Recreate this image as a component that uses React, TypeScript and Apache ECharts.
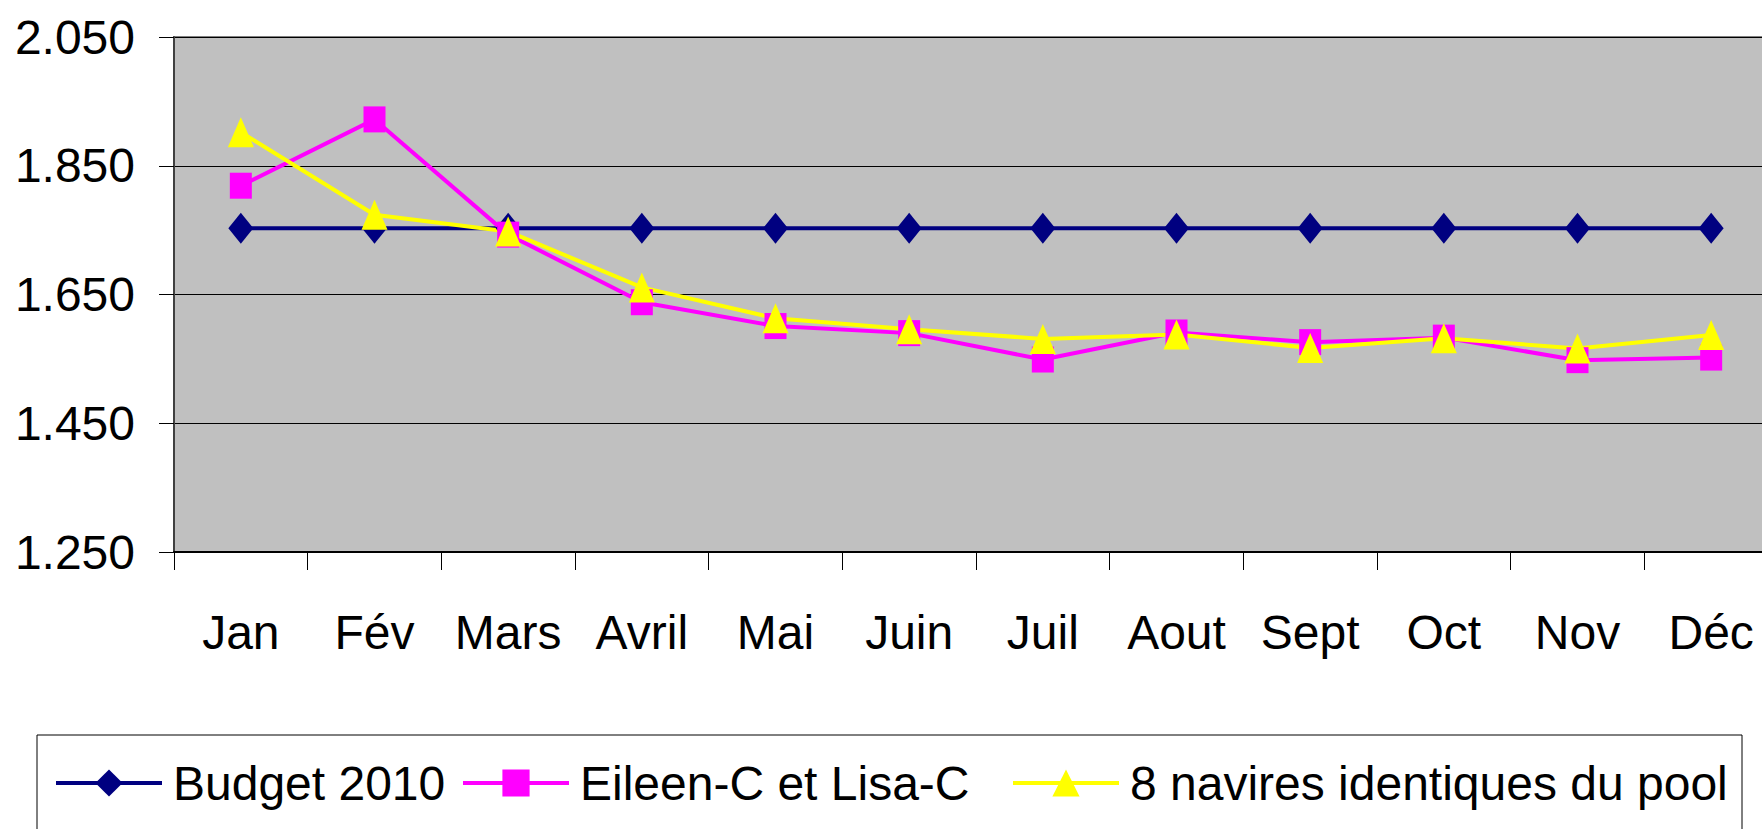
import React, { useEffect, useRef } from "react";
import * as echarts from "echarts";

const months = ["Jan", "Fév", "Mars", "Avril", "Mai", "Juin", "Juil", "Aout", "Sept", "Oct", "Nov", "Déc"];
const budget2010 = [1753, 1753, 1753, 1753, 1753, 1753, 1753, 1753, 1753, 1753, 1753, 1753];
const eileenLisa = [1819, 1922, 1743, 1638, 1601, 1590, 1549, 1591, 1576, 1583, 1548, 1552];
const huitNavires = [1902, 1774, 1748, 1661, 1613, 1596, 1581, 1588, 1567, 1582, 1566, 1587];
const seriesNames = ["Budget 2010", "Eileen-C et Lisa-C", "8 navires identiques du pool"];

const FONT = "'Liberation Sans', Arial, sans-serif";

function fmt(v: number): string {
  const th = Math.floor(v / 1000);
  const rest = Math.round(v - th * 1000);
  return th + "." + String(rest).padStart(3, "0");
}

export default function App() {
  const ref = useRef<HTMLDivElement>(null);
  useEffect(() => {
    if (!ref.current) return;
    const chart = echarts.init(ref.current, null, { renderer: "svg" });
    const legendCommon = {
      orient: "horizontal",
      itemWidth: 106,
      itemHeight: 34,
      selectedMode: false,
      lineStyle: { width: 4 },
      textStyle: { fontSize: 48, color: "#000", fontFamily: FONT, padding: [0, 0, 0, 6] },
      padding: 0,
    };
    chart.setOption({
      animation: false,
      backgroundColor: "#ffffff",
      textStyle: { fontFamily: FONT },
      grid: {
        left: 174,
        top: 37,
        width: 1604,
        height: 515,
        show: true,
        backgroundColor: "#c0c0c0",
        borderColor: "#808080",
        borderWidth: 2,
        containLabel: false,
        outerBoundsMode: "none",
      },
      legend: [
        { ...legendCommon, data: [seriesNames[0]], left: 54, top: 759 },
        { ...legendCommon, data: [seriesNames[1]], left: 461, top: 759 },
        { ...legendCommon, data: [seriesNames[2]], left: 1011, top: 759 },
      ],
      graphic: [
        {
          type: "rect",
          shape: { x: 37, y: 735, width: 1705, height: 200 },
          style: { fill: "none", stroke: "#000", lineWidth: 1 },
          silent: true,
        },
      ],
      xAxis: {
        type: "category",
        data: months,
        boundaryGap: true,
        axisLine: { show: true, lineStyle: { color: "#000", width: 2 } },
        axisTick: { show: true, length: 18, inside: false, lineStyle: { color: "#000", width: 1 } },
        axisLabel: { fontSize: 48, color: "#000", fontFamily: FONT, margin: 56, interval: 0 },
        splitLine: { show: false },
      },
      yAxis: {
        type: "value",
        min: 1250,
        max: 2050,
        interval: 200,
        axisLine: { show: true, lineStyle: { color: "#404040", width: 2 } },
        axisTick: { show: true, length: 15, inside: false, lineStyle: { color: "#000", width: 1 } },
        axisLabel: { fontSize: 48, color: "#000", fontFamily: FONT, margin: 39, formatter: (v: number) => fmt(v) },
        splitLine: { show: true, lineStyle: { color: "#000", width: 1 } },
      },
      series: [
        {
          name: seriesNames[0],
          type: "line",
          data: budget2010,
          symbol: "diamond",
          symbolSize: [25, 31],
          lineStyle: { color: "#000080", width: 4 },
          itemStyle: { color: "#000080" },
        },
        {
          name: seriesNames[1],
          type: "line",
          data: eileenLisa,
          symbol: "rect",
          symbolSize: [22, 26],
          lineStyle: { color: "#ff00ff", width: 4 },
          itemStyle: { color: "#ff00ff" },
        },
        {
          name: seriesNames[2],
          type: "line",
          data: huitNavires,
          symbol: "triangle",
          symbolSize: [26, 30],
          lineStyle: { color: "#ffff00", width: 4 },
          itemStyle: { color: "#ffff00" },
        },
      ],
    });
    return () => chart.dispose();
  }, []);
  return (
    <div style={{ position: "fixed", left: 0, top: 0, width: 1762, height: 829, overflow: "hidden", background: "#fff" }}>
      <div ref={ref} style={{ width: 1800, height: 829 }} />
    </div>
  );
}
